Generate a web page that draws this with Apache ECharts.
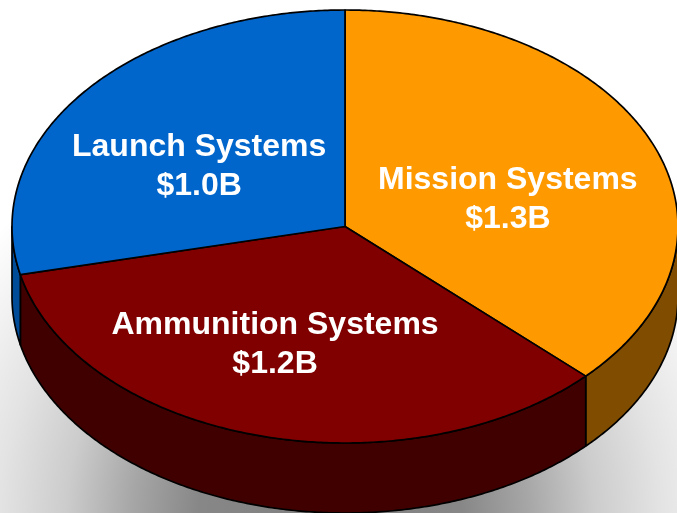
<!DOCTYPE html>
<html><head><meta charset="utf-8">
<script src="https://cdn.jsdelivr.net/npm/echarts@6/dist/echarts.min.js"></script>
<style>html,body{margin:0;padding:0;background:#fff}#c{width:677px;height:513px}</style>
</head><body><div id="c"></div>
<script>
// ---- data ----
const categories = ['Mission Systems', 'Ammunition Systems', 'Launch Systems'];
const values = [1.3, 1.2, 1.0];          // $ billions
const valuePrefix = '$';
const valueSuffix = 'B';

// ---- styles / layout ----
const palette = ['#FF9900', '#800000', '#0066CC'];
const wallPalette = ['#7F4C00', '#400000', '#004C99'];
const layout = { cx: 345, cy: 226.5, rx: 333, ry: 216.5, depth: 70 };
const labelPos = [[0.489, -0.122], [-0.21, 0.545], [-0.438, -0.277]]; // relative to radii

const total = values.reduce((a, b) => a + b, 0);
const starts = [];
{ let acc = 0; values.forEach(v => { starts.push(acc); acc += v; }); }

function pt(deg, dy) {
  const r = deg * Math.PI / 180;
  return [layout.cx + layout.rx * Math.sin(r), layout.cy - layout.ry * Math.cos(r) + (dy || 0)];
}
function arc(a, b, dy) {
  const pts = [];
  const n = Math.max(2, Math.ceil(Math.abs(b - a) / 0.5));
  for (let i = 0; i <= n; i++) pts.push(pt(a + (b - a) * i / n, dy));
  return pts;
}

const chart = echarts.init(document.getElementById('c'), null, { renderer: 'canvas' });
chart.setOption({
  backgroundColor: '#ffffff',
  animation: false,
  graphic: [{
    type: 'rect', silent: true, z: 0,
    shape: { x: 0, y: 0, width: 677, height: 513 },
    style: {
      fill: new echarts.graphic.RadialGradient(330, 520, 440, [
        { offset: 0, color: 'rgba(0,0,0,0.50)' },
        { offset: 0.3, color: 'rgba(0,0,0,0.47)' },
        { offset: 0.45, color: 'rgba(0,0,0,0.35)' },
        { offset: 0.6, color: 'rgba(0,0,0,0.20)' },
        { offset: 0.75, color: 'rgba(0,0,0,0.11)' },
        { offset: 0.87, color: 'rgba(0,0,0,0.055)' },
        { offset: 1, color: 'rgba(0,0,0,0)' }
      ], true)
    }
  }],
  series: [{
    type: 'custom',
    coordinateSystem: 'none',
    z: 5,
    data: values.map((v, i) => ({ name: categories[i], value: [v] })),
    renderItem: function (params, api) {
      const i = params.dataIndex;
      const v = api.value(0);
      const a0 = starts[i] / total * 360;
      const a1 = (starts[i] + v) / total * 360;
      const children = [];
      const wa = Math.max(a0, 90), wb = Math.min(a1, 270);
      if (wb > wa) {
        const top = arc(wa, wb, 0);
        const bot = arc(wb, wa, layout.depth);
        children.push({
          type: 'polygon', z2: 1,
          shape: { points: top.concat(bot) },
          style: { fill: wallPalette[i], stroke: '#000', lineWidth: 1.7, lineJoin: 'round' }
        });
      }
      const face = [[layout.cx, layout.cy]].concat(arc(a0, a1, 0));
      children.push({
        type: 'polygon', z2: 2,
        shape: { points: face },
        style: { fill: palette[i], stroke: '#000', lineWidth: 1.7, lineJoin: 'round' }
      });
      children.push({
        type: 'text', z2: 10,
        style: {
          text: categories[i] + '\n' + valuePrefix + v.toFixed(1) + valueSuffix,
          x: layout.cx + labelPos[i][0] * layout.rx,
          y: layout.cy + labelPos[i][1] * layout.ry,
          fill: '#ffffff',
          font: 'bold 32px "Liberation Sans", Arial, sans-serif',
          align: 'center', verticalAlign: 'middle', lineHeight: 39
        }
      });
      return { type: 'group', children: children };
    }
  }]
});
</script></body></html>
